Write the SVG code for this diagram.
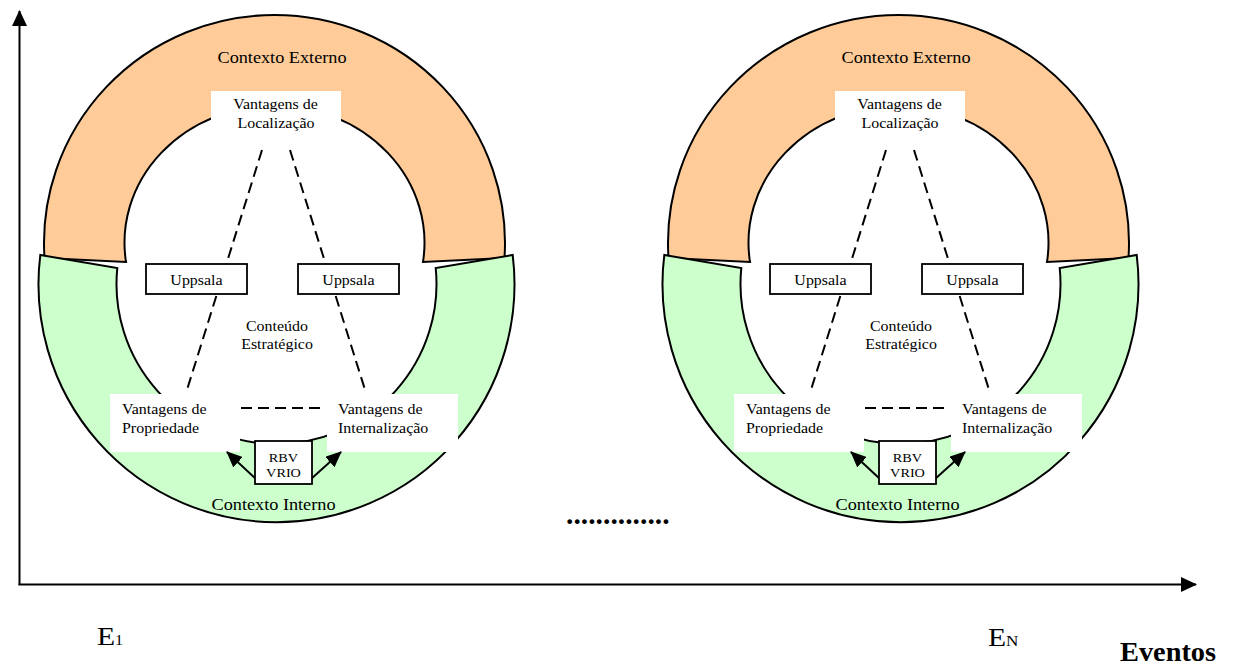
<svg xmlns="http://www.w3.org/2000/svg" width="1235" height="667" viewBox="0 0 1235 667">
<style>
.t{font-family:"Liberation Serif","Times New Roman",serif;fill:#000}
.s16{font-size:16px}
.s14{font-size:14px}
.s12{font-size:12.5px}
.m{text-anchor:middle}
.orange{fill:#FFCC99;stroke:#000;stroke-width:2}
.green{fill:#CCFFCC;stroke:#000;stroke-width:2}
.wbox{fill:#fff;stroke:none}
.box{fill:#fff;stroke:#000;stroke-width:1.8}
.dash{fill:none;stroke:#000;stroke-width:2;stroke-dasharray:11,6}
.arr{fill:none;stroke:#000;stroke-width:2;marker-end:url(#ah)}
.axis{fill:none;stroke:#000;stroke-width:2;marker-end:url(#axh)}
</style>
<defs>
<marker id="ah" markerUnits="userSpaceOnUse" markerWidth="16" markerHeight="14" viewBox="0 0 16 14" refX="15" refY="7" orient="auto"><path d="M0,0 L16,7 L0,14 Z" fill="#000"/></marker>
<marker id="axh" markerUnits="userSpaceOnUse" markerWidth="16" markerHeight="15" viewBox="0 0 16 15" refX="15" refY="7.5" orient="auto"><path d="M0,0 L16,7.5 L0,15 Z" fill="#000"/></marker>
</defs>
<rect width="1235" height="667" fill="#fff"/>

<g id="axes">
<line class="axis" x1="19.5" y1="585" x2="19.5" y2="11"/>
<line class="axis" x1="18.5" y1="584.5" x2="1196" y2="584.5"/>
</g>

<!-- LEFT FIGURE -->
<g id="fig1">
<g id="fig1-contexto-externo">
<path class="orange" d="M44.5,258 A230.5,228 0 1 1 504.5,258 L423,262 A150,137 0 1 0 126,262 Z"/>
<text class="t s16 m" transform="translate(282 63) scale(1.14 1)">Contexto Externo</text>
</g>
<g id="fig1-contexto-interno">
<path class="green" d="M40.3,255 A238,238 0 1 0 512.7,255 L435.7,268 A160,160 0 1 1 117.3,268 Z"/>
<text class="t s16 m" transform="translate(273.5 510) scale(1.14 1)">Contexto Interno</text>
</g>
<g id="fig1-localizacao">
<rect class="wbox" x="211" y="91" width="130" height="46"/>
<text class="t s14 m" transform="translate(275.5 109) scale(1.14 1)">Vantagens de</text>
<text class="t s14 m" transform="translate(276 128) scale(1.14 1)">Localização</text>
</g>
<g id="fig1-propriedade">
<rect class="wbox" x="110" y="394" width="130" height="58"/>
<text class="t s14" transform="translate(122 414) scale(1.14 1)">Vantagens de</text>
<text class="t s14" transform="translate(122 433) scale(1.14 1)">Propriedade</text>
</g>
<g id="fig1-internalizacao">
<rect class="wbox" x="327" y="394" width="131" height="58"/>
<text class="t s14" transform="translate(338 414) scale(1.14 1)">Vantagens de</text>
<text class="t s14" transform="translate(338 433) scale(1.14 1)">Internalização</text>
</g>
<g id="fig1-conteudo">
<text class="t s14 m" transform="translate(277 331) scale(1.14 1)">Conteúdo</text>
<text class="t s14 m" transform="translate(277 349) scale(1.14 1)">Estratégico</text>
</g>
<g id="fig1-connectors">
<line class="dash" x1="262" y1="150" x2="186" y2="393"/>
<line class="dash" x1="290" y1="150" x2="366" y2="393"/>
<line class="dash" x1="241" y1="408" x2="326" y2="408"/>
<line class="arr" x1="256" y1="479" x2="227" y2="452"/>
<line class="arr" x1="311" y1="479" x2="341" y2="452"/>
</g>
<g id="fig1-uppsala-1">
<rect class="box" x="146" y="264" width="101" height="30"/>
<text class="t s14 m" transform="translate(196.5 285) scale(1.14 1)">Uppsala</text>
</g>
<g id="fig1-uppsala-2">
<rect class="box" x="298" y="264" width="101" height="30"/>
<text class="t s14 m" transform="translate(348.5 285) scale(1.14 1)">Uppsala</text>
</g>
<g id="fig1-rbv">
<rect class="box" x="255" y="441" width="57" height="43"/>
<text class="t s12 m" transform="translate(283.5 462) scale(1.14 1)">RBV</text>
<text class="t s12 m" transform="translate(283.5 477) scale(1.14 1)">VRIO</text>
</g>
</g>

<!-- RIGHT FIGURE -->
<g id="fig2" transform="translate(624 0)">
<g id="fig2-contexto-externo">
<path class="orange" d="M44.5,258 A230.5,228 0 1 1 504.5,258 L423,262 A150,137 0 1 0 126,262 Z"/>
<text class="t s16 m" transform="translate(282 63) scale(1.14 1)">Contexto Externo</text>
</g>
<g id="fig2-contexto-interno">
<path class="green" d="M40.3,255 A238,238 0 1 0 512.7,255 L435.7,268 A160,160 0 1 1 117.3,268 Z"/>
<text class="t s16 m" transform="translate(273.5 510) scale(1.14 1)">Contexto Interno</text>
</g>
<g id="fig2-localizacao">
<rect class="wbox" x="211" y="91" width="130" height="46"/>
<text class="t s14 m" transform="translate(275.5 109) scale(1.14 1)">Vantagens de</text>
<text class="t s14 m" transform="translate(276 128) scale(1.14 1)">Localização</text>
</g>
<g id="fig2-propriedade">
<rect class="wbox" x="110" y="394" width="130" height="58"/>
<text class="t s14" transform="translate(122 414) scale(1.14 1)">Vantagens de</text>
<text class="t s14" transform="translate(122 433) scale(1.14 1)">Propriedade</text>
</g>
<g id="fig2-internalizacao">
<rect class="wbox" x="327" y="394" width="131" height="58"/>
<text class="t s14" transform="translate(338 414) scale(1.14 1)">Vantagens de</text>
<text class="t s14" transform="translate(338 433) scale(1.14 1)">Internalização</text>
</g>
<g id="fig2-conteudo">
<text class="t s14 m" transform="translate(277 331) scale(1.14 1)">Conteúdo</text>
<text class="t s14 m" transform="translate(277 349) scale(1.14 1)">Estratégico</text>
</g>
<g id="fig2-connectors">
<line class="dash" x1="262" y1="150" x2="186" y2="393"/>
<line class="dash" x1="290" y1="150" x2="366" y2="393"/>
<line class="dash" x1="241" y1="408" x2="326" y2="408"/>
<line class="arr" x1="256" y1="479" x2="227" y2="452"/>
<line class="arr" x1="311" y1="479" x2="341" y2="452"/>
</g>
<g id="fig2-uppsala-1">
<rect class="box" x="146" y="264" width="101" height="30"/>
<text class="t s14 m" transform="translate(196.5 285) scale(1.14 1)">Uppsala</text>
</g>
<g id="fig2-uppsala-2">
<rect class="box" x="298" y="264" width="101" height="30"/>
<text class="t s14 m" transform="translate(348.5 285) scale(1.14 1)">Uppsala</text>
</g>
<g id="fig2-rbv">
<rect class="box" x="255" y="441" width="57" height="43"/>
<text class="t s12 m" transform="translate(283.5 462) scale(1.14 1)">RBV</text>
<text class="t s12 m" transform="translate(283.5 477) scale(1.14 1)">VRIO</text>
</g>
</g>

<g id="labels">
<text class="t" style="font-size:29.6px;font-weight:bold" x="566" y="524">..............</text>
<text class="t" transform="translate(97 645) scale(1.14 1)" style="font-size:26px">E<tspan style="font-size:14px">1</tspan></text>
<text class="t" transform="translate(988 646) scale(1.14 1)" style="font-size:26px">E<tspan style="font-size:15px">N</tspan></text>
<text class="t" transform="translate(1120 661) scale(1.05 1)" style="font-size:27px;font-weight:bold">Eventos</text>
</g>
</svg>
